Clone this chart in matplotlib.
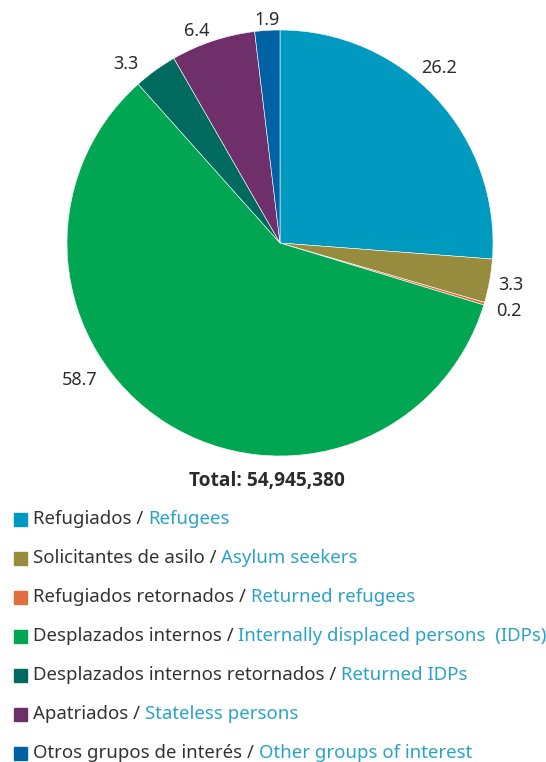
import matplotlib
matplotlib.use("Agg")
import matplotlib.pyplot as plt
import numpy as np
from matplotlib.patches import Rectangle

plt.rcParams['font.family'] = ['Noto Sans', 'DejaVu Sans']

# datos
valores = [26.2, 3.3, 0.2, 58.7, 3.3, 6.4, 1.9]
etiquetas = ['26.2', '3.3', '0.2', '58.7', '3.3', '6.4', '1.9']
nombres_es = ['Refugiados', 'Solicitantes de asilo', 'Refugiados retornados',
              'Desplazados internos', 'Desplazados internos retornados',
              'Apatriados', 'Otros grupos de interés']
nombres_en = ['Refugees', 'Asylum seekers', 'Returned refugees',
              'Internally displaced persons  (IDPs)', 'Returned IDPs',
              'Stateless persons', 'Other groups of interest']
colores = ['#0099bf', '#978b3d', '#e2703e', '#00a651', '#006a5e', '#6e2f6b', '#0062a4']
total = 'Total: 54,945,380'

# ajustes de posicion de las etiquetas (grados, radio)
ajuste_ang = [5, 0, 0, -23, 5, 3, 0]
radio_lab = [1.11, 1.10, 1.12, 1.14, 1.11, 1.07, 1.05]

fig = plt.figure(figsize=(5.46, 7.62), dpi=100)
ax = fig.add_axes([67/546, 1 - 456/762, 426/546, 426/762])
wedges, _ = ax.pie(valores, colors=colores, startangle=90, counterclock=False,
                   wedgeprops=dict(edgecolor='white', linewidth=0.4))
ax.set_xlim(-1, 1)
ax.set_ylim(-1, 1)
ax.set_aspect('equal')
ax.axis('off')

for w, lab, da, r in zip(wedges, etiquetas, ajuste_ang, radio_lab):
    ang = np.deg2rad((w.theta1 + w.theta2) / 2 + da)
    ax.text(r * np.cos(ang), r * np.sin(ang), lab, ha='center', va='center',
            fontsize=13, color='#2b2b2b', clip_on=False)

fig.text(267/546, 1 - 481/762, total, ha='center', va='center',
         fontsize=13.8, fontweight='bold', color='#2b2b2b',
         family=['Open Sans', 'DejaVu Sans'])

# leyenda hecha a mano (dos colores de texto)
renderer = fig.canvas.get_renderer()
y0 = 519
for i in range(len(valores)):
    y = 1 - (y0 + i * 39) / 762
    fig.patches.append(Rectangle((14/546, y - 6.5/762), 13/546, 13/762,
                                 transform=fig.transFigure, color=colores[i]))
    t = fig.text(33/546, y, nombres_es[i] + ' / ', ha='left', va='center',
                 fontsize=13.4, color='#333333')
    bb = t.get_window_extent(renderer)
    fig.text(bb.x1 / fig.bbox.width, y, nombres_en[i], ha='left', va='center',
             fontsize=13.4, color='#2ba3c8')

fig.savefig('out.png', dpi=100)
